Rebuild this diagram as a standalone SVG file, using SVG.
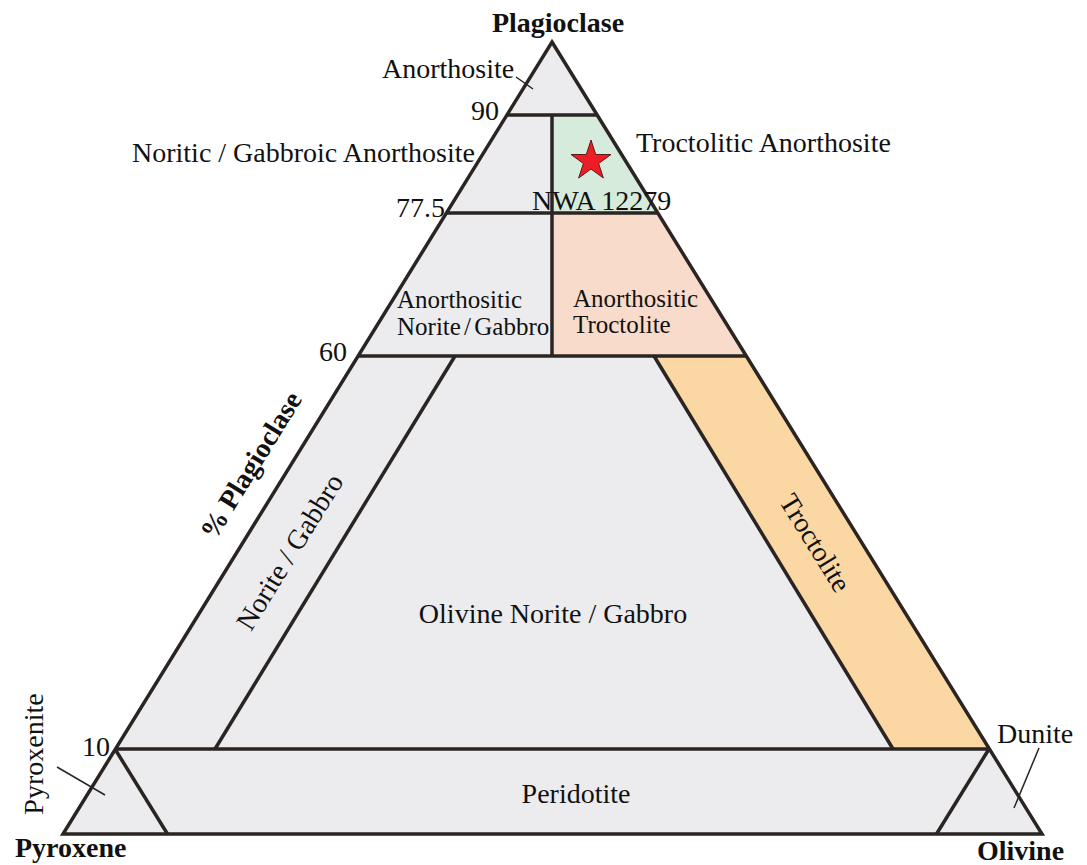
<svg xmlns="http://www.w3.org/2000/svg" width="1087" height="865" viewBox="0 0 1087 865">
<style>
.gray{fill:#ececee}
.green{fill:#d6ebdb}
.pink{fill:#f8dbcb}
.orange{fill:#fbd7a3}
.edge{stroke:#2a2422;stroke-width:3.5;stroke-linejoin:miter;fill:none}
.t{font-family:"Liberation Serif","Times New Roman",serif;font-size:28px;fill:#111}
.s{font-family:"Liberation Serif","Times New Roman",serif;font-size:25px;fill:#111}
.b{font-family:"Liberation Serif","Times New Roman",serif;font-size:28px;font-weight:bold;fill:#111}
.m{text-anchor:middle}
.e{text-anchor:end}
.lead{stroke:#2a2422;stroke-width:1.5;fill:none}
</style>
<rect width="1087" height="865" fill="#ffffff"/>
<g id="anorthosite">
<polygon class="gray" points="552,42 597.1,115 506.9,115"/>
<text class="t" x="382" y="78">Anorthosite</text>
</g>
<g id="noritic-gabbroic-anorthosite">
<polygon class="gray" points="506.9,115 552,115 552,213 446.3,213"/>
<text class="t" x="132" y="162">Noritic / Gabbroic Anorthosite</text>
</g>
<g id="troctolitic-anorthosite">
<polygon class="green" points="552,115 597.1,115 657.7,213 552,213"/>
<text class="t" x="636" y="152">Troctolitic Anorthosite</text>
</g>
<g id="anorthositic-norite">
<polygon class="gray" points="446.3,213 552,213 552,356 357.9,356"/>
<text class="s" x="397" y="308">Anorthositic</text>
<text class="s" x="397" y="335" word-spacing="-3">Norite / Gabbro</text>
</g>
<g id="anorthositic-troctolite">
<polygon class="pink" points="552,213 657.7,213 746.1,356 552,356"/>
<text class="s" x="573" y="307">Anorthositic</text>
<text class="s" x="573" y="333">Troctolite</text>
</g>
<g id="norite-gabbro">
<polygon class="gray" points="357.9,356 455,356 215,749 115,749"/>
<text class="t m" transform="translate(290,552) rotate(-58.3)" y="9">Norite / Gabbro</text>
</g>
<g id="olivine-norite-gabbro">
<polygon class="gray" points="455,356 654,356 893,749 215,749"/>
<text class="t m" x="553" y="623">Olivine Norite / Gabbro</text>
</g>
<g id="troctolite">
<polygon class="orange" points="654,356 746.1,356 989,749 893,749"/>
<text class="t m" transform="translate(815,543) rotate(58.3)" y="9">Troctolite</text>
</g>
<g id="pyroxenite">
<polygon class="gray" points="115,749 167.5,834 63,834"/>
<text class="t m" transform="translate(35,754) rotate(-90)" y="8">Pyroxenite</text>
</g>
<g id="peridotite">
<polygon class="gray" points="115,749 989,749 936.5,834 167.5,834"/>
<text class="t m" x="576" y="803">Peridotite</text>
</g>
<g id="dunite">
<polygon class="gray" points="989,749 1042,834 936.5,834"/>
<text class="t" x="997" y="743">Dunite</text>
</g>
<g id="boundaries">
<polygon class="edge" points="552,42 1042,834 63,834" stroke-width="4"/>
<line class="edge" x1="506.9" y1="115" x2="597.1" y2="115"/>
<line class="edge" x1="446.3" y1="213" x2="657.7" y2="213"/>
<line class="edge" x1="357.9" y1="356" x2="746.1" y2="356"/>
<line class="edge" x1="115" y1="749" x2="989" y2="749"/>
<line class="edge" x1="552" y1="115" x2="552" y2="356"/>
<line class="edge" x1="455" y1="356" x2="215" y2="749"/>
<line class="edge" x1="654" y1="356" x2="893" y2="749"/>
<line class="edge" x1="115" y1="749" x2="167.5" y2="834"/>
<line class="edge" x1="989" y1="749" x2="936.5" y2="834"/>
</g>
<g id="connectors">
<line class="lead" x1="516" y1="77" x2="533" y2="89"/>
<line class="lead" x1="57" y1="767" x2="105" y2="795"/>
<line class="lead" x1="1039" y1="748" x2="1014" y2="808"/>
</g>
<g id="sample">
<polygon points="591,140 595.71,154.51 610.97,154.51 598.63,163.48 603.34,177.99 591,169.02 578.66,177.99 583.37,163.48 571.03,154.51 586.29,154.51" fill="#ee1c24" stroke="#5a1a1a" stroke-width="1"/>
<text class="t" x="532" y="210">NWA 12279</text>
</g>
<g id="axis-labels">
<text class="b m" x="558" y="32">Plagioclase</text>
<text class="b" x="15" y="857">Pyroxene</text>
<text class="b" x="977" y="860">Olivine</text>
<text class="b m" transform="translate(252,466) rotate(-58.3)" y="8" font-size="25">% Plagioclase</text>
<text class="t e" x="499" y="120">90</text>
<text class="t e" x="445" y="217">77.5</text>
<text class="t e" x="347" y="361">60</text>
<text class="t e" x="110" y="756">10</text>
</g>
</svg>
